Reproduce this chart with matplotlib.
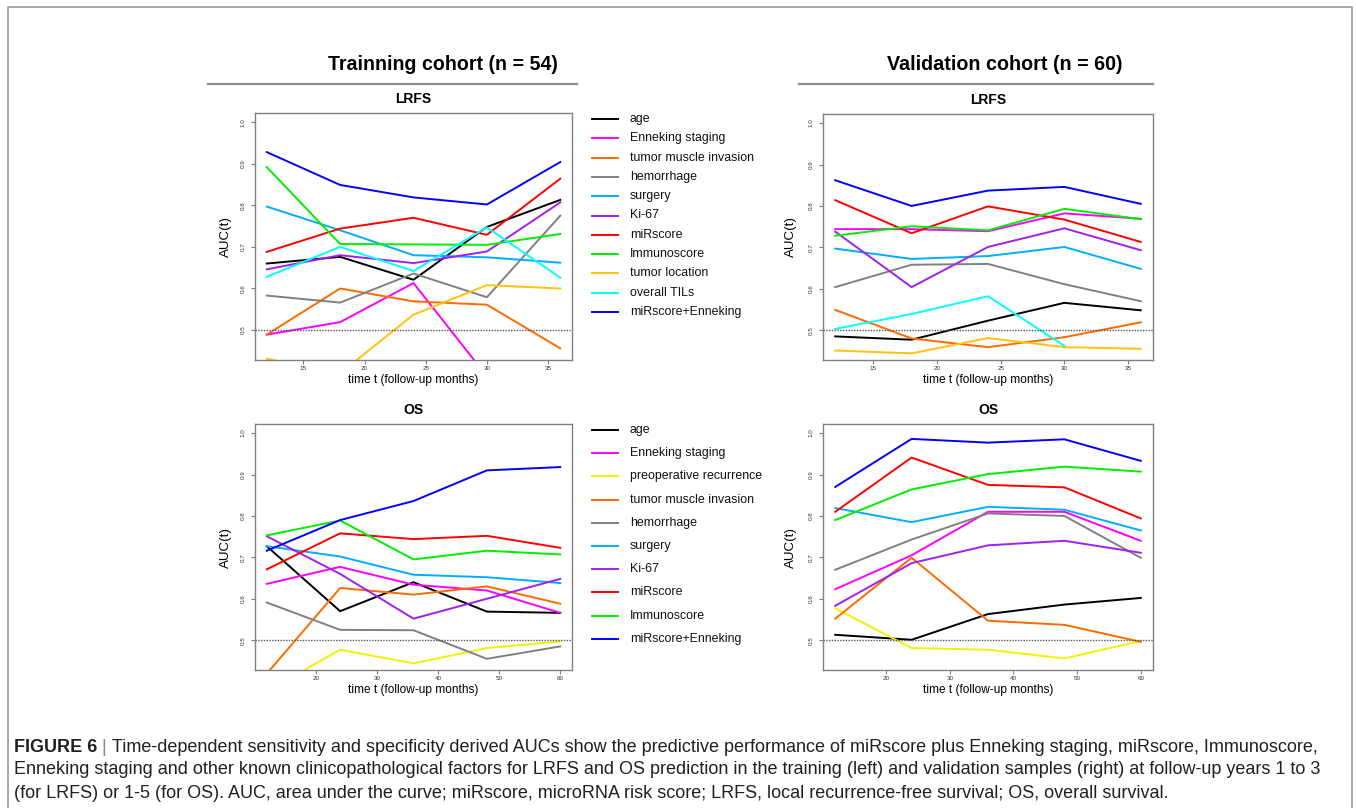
import numpy as np
import matplotlib
matplotlib.use("Agg")
import matplotlib.pyplot as plt
from matplotlib.lines import Line2D

W, H = 1356, 808

# time points (months)
lrfs_months = [12, 18, 24, 30, 36]
os_months = [12, 24, 36, 48, 60]

lrfs_labels = ["age", "Enneking staging", "tumor muscle invasion", "hemorrhage",
               "surgery", "Ki-67", "miRscore", "Immunoscore", "tumor location",
               "overall TILs", "miRscore+Enneking"]
lrfs_colors = ["#000000", "#FF00FF", "#FF6A00", "#808080", "#00AEFF", "#A020F0",
               "#FF0000", "#00EE00", "#FFC20E", "#00FFFF", "#0000FF"]

os_labels = ["age", "Enneking staging", "preoperative recurrence", "tumor muscle invasion",
             "hemorrhage", "surgery", "Ki-67", "miRscore", "Immunoscore", "miRscore+Enneking"]
os_colors = ["#000000", "#FF00FF", "#F2F200", "#FF6A00", "#808080", "#00AEFF",
             "#A020F0", "#FF0000", "#00EE00", "#0000FF"]

# AUC(t) values, rows follow the label order
train_lrfs_auc = [
    [0.660, 0.676, 0.621, 0.748, 0.813],   # age
    [0.489, 0.519, 0.613, 0.389, 0.400],   # Enneking staging
    [0.489, 0.600, 0.569, 0.561, 0.456],   # tumor muscle invasion
    [0.583, 0.566, 0.636, 0.579, 0.775],   # hemorrhage
    [0.797, 0.740, 0.680, 0.675, 0.662],   # surgery
    [0.646, 0.680, 0.661, 0.689, 0.807],   # Ki-67
    [0.688, 0.744, 0.770, 0.729, 0.864],   # miRscore
    [0.892, 0.707, 0.706, 0.705, 0.731],   # Immunoscore
    [0.431, 0.396, 0.537, 0.608, 0.600],   # tumor location
    [0.628, 0.700, 0.642, 0.747, 0.626],   # overall TILs
    [0.928, 0.849, 0.819, 0.802, 0.904],   # miRscore+Enneking
]
valid_lrfs_auc = [
    [0.485, 0.477, 0.523, 0.566, 0.548],
    [0.744, 0.744, 0.739, 0.782, 0.769],
    [0.549, 0.480, 0.459, 0.483, 0.519],
    [0.604, 0.658, 0.660, 0.611, 0.570],
    [0.697, 0.672, 0.679, 0.701, 0.648],
    [0.738, 0.604, 0.701, 0.746, 0.693],
    [0.814, 0.734, 0.799, 0.767, 0.713],
    [0.728, 0.751, 0.741, 0.793, 0.768],
    [0.451, 0.444, 0.481, 0.459, 0.455],
    [0.503, 0.539, 0.582, 0.462, np.nan],
    [0.862, 0.800, 0.837, 0.846, 0.805],
]
train_os_auc = [
    [0.727, 0.570, 0.640, 0.569, 0.566],   # age
    [0.636, 0.677, 0.634, 0.620, 0.566],   # Enneking staging
    [0.377, 0.477, 0.444, 0.481, 0.497],   # preoperative recurrence
    [0.419, 0.626, 0.610, 0.630, 0.588],   # tumor muscle invasion
    [0.591, 0.525, 0.524, 0.455, 0.485],   # hemorrhage
    [0.727, 0.702, 0.658, 0.652, 0.638],   # surgery
    [0.751, 0.660, 0.552, 0.600, 0.648],   # Ki-67
    [0.671, 0.758, 0.744, 0.752, 0.723],   # miRscore
    [0.753, 0.789, 0.695, 0.716, 0.707],   # Immunoscore
    [0.716, 0.790, 0.836, 0.910, 0.918],   # miRscore+Enneking
]
valid_os_auc = [
    [0.513, 0.501, 0.563, 0.586, 0.602],
    [0.623, 0.705, 0.810, 0.810, 0.740],
    [0.577, 0.481, 0.477, 0.456, 0.498],
    [0.552, 0.699, 0.547, 0.537, 0.496],
    [0.670, 0.743, 0.806, 0.800, 0.699],
    [0.819, 0.785, 0.822, 0.815, 0.765],
    [0.583, 0.686, 0.729, 0.740, 0.711],
    [0.810, 0.941, 0.875, 0.869, 0.794],
    [0.790, 0.864, 0.901, 0.919, 0.907],
    [0.870, 0.986, 0.977, 0.985, 0.933],
]

caption_lines = [
    "Time-dependent sensitivity and specificity derived AUCs show the predictive performance of miRscore plus Enneking staging, miRscore, Immunoscore,",
    "Enneking staging and other known clinicopathological factors for LRFS and OS prediction in the training (left) and validation samples (right) at follow-up years 1 to 3",
    "(for LRFS) or 1-5 (for OS). AUC, area under the curve; miRscore, microRNA risk score; LRFS, local recurrence-free survival; OS, overall survival.",
]

plt.rcParams["font.family"] = ["Liberation Sans", "DejaVu Sans"]

fig = plt.figure(figsize=(W / 100, H / 100), dpi=100)
renderer = fig.canvas.get_renderer()


def fy(y):
    return 1 - y / H


def box(x0, y0, x1, y1):
    return [x0 / W, 1 - y1 / H, (x1 - x0) / W, (y1 - y0) / H]


def fit_text(x, y, s, width, fs=10, **kw):
    t = fig.text(x / W, fy(y), s, fontsize=fs, **kw)
    w = t.get_window_extent(renderer).width
    t.set_fontsize(fs * width / w)
    return t


def panel(rect, months, auc, colors, title, xticks, ylab_x):
    ax = fig.add_axes(rect)
    for vals, c in zip(auc, colors):
        ax.plot(months, vals, color=c, lw=1.4)
    ax.axhline(0.5, color="#555555", ls=(0, (1, 1)), lw=1.0)
    span = months[-1] - months[0]
    ax.set_xlim(months[0] - 0.04 * span, months[-1] + 0.04 * span)
    ax.set_ylim(0.45 - 0.022, 1.0 + 0.022)
    ax.set_xticks(xticks)
    yt = [0.5, 0.6, 0.7, 0.8, 0.9, 1.0]
    ax.set_yticks(yt)
    ax.set_yticklabels([f"{v:.1f}" for v in yt], rotation=90, va="center")
    ax.tick_params(direction="out", length=3, width=0.8, color="#808080",
                   labelsize=4.5, labelcolor="#333333")
    ax.tick_params(axis="y", pad=4)
    ax.tick_params(axis="x", pad=1.5)
    for s in ax.spines.values():
        s.set_color("#808080")
        s.set_linewidth(1)
    ax.set_title(title, fontsize=10, fontweight="bold", pad=7)
    ax.set_xlabel("time t (follow-up months)", fontsize=8.6)
    ax.xaxis.set_label_coords(0.5, -0.058)
    ax.set_ylabel("AUC(t)", fontsize=9.6)
    ax.yaxis.set_label_coords(ylab_x, 0.5)
    return ax


panel(box(255, 113, 572, 360), lrfs_months, train_lrfs_auc, lrfs_colors,
      "LRFS", [15, 20, 25, 30, 35], -0.073)
panel(box(823, 114, 1153, 360), lrfs_months, valid_lrfs_auc, lrfs_colors,
      "LRFS", [15, 20, 25, 30, 35], -0.079)
panel(box(255, 424, 572, 670), os_months, train_os_auc, os_colors,
      "OS", [20, 30, 40, 50, 60], -0.073)
panel(box(823, 424, 1153, 670), os_months, valid_os_auc, os_colors,
      "OS", [20, 30, 40, 50, 60], -0.079)


def legend(labels, colors, y0, step):
    for i, (lab, c) in enumerate(zip(labels, colors)):
        y = fy(y0 + i * step)
        fig.add_artist(Line2D([592 / W, 618 / W], [y, y], color=c, lw=1.4))
        fig.text(630 / W, y, lab, fontsize=8.9, va="center", ha="left", color="#111111")


legend(lrfs_labels, lrfs_colors, 119, 19.3)
legend(os_labels, os_colors, 430, 23.2)

# cohort headers
fit_text(443, 65, "Trainning cohort (n = 54)", 230, fs=17, fontweight="bold",
         ha="center", va="center")
fit_text(1005, 65, "Validation cohort (n = 60)", 236, fs=17, fontweight="bold",
         ha="center", va="center")
for x0, x1 in [(208, 577), (799, 1153)]:
    fig.add_artist(Line2D([x0 / W, x1 / W], [fy(84), fy(84)], color="#8C8C8C", lw=1.6))

# outer frame
fig.add_artist(Line2D([8 / W, 8 / W, 1352 / W, 1352 / W], [0, fy(7), fy(7), 0],
                      color="#A0A0A0", lw=1.3))

# caption
t2 = fit_text(14, 770, caption_lines[1], 1308, fs=12, va="center", ha="left", color="#231F20")
cfs = t2.get_fontsize()
tb = fig.text(14 / W, fy(747), "FIGURE 6", fontsize=cfs, fontweight="bold",
              va="center", ha="left", color="#231F20")
bx = tb.get_window_extent(renderer).x1
tbar = fig.text(bx / W, fy(747), " | ", fontsize=cfs, va="center", ha="left", color="#888888")
bx2 = tbar.get_window_extent(renderer).x1
fig.text(bx2 / W, fy(747), caption_lines[0], fontsize=cfs, va="center", ha="left", color="#231F20")
fig.text(14 / W, fy(793), caption_lines[2], fontsize=cfs, va="center", ha="left", color="#231F20")

fig.savefig("out.png", dpi=100, facecolor="white")
